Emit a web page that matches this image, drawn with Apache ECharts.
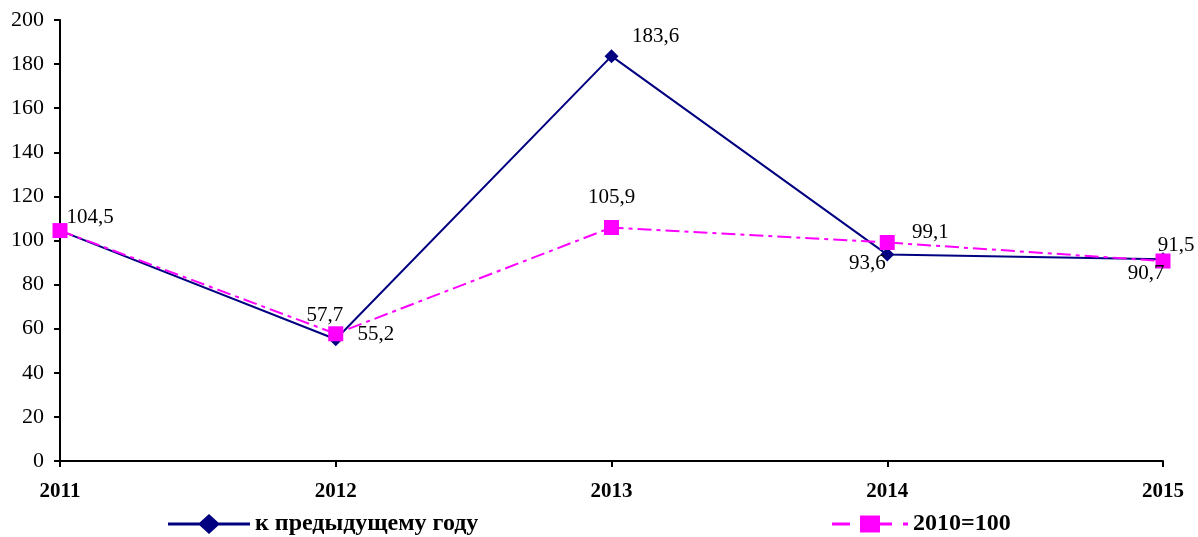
<!DOCTYPE html>
<html>
<head>
<meta charset="utf-8">
<script src="https://cdn.jsdelivr.net/npm/echarts@6/dist/echarts.min.js"></script>
<style>
  html, body { margin: 0; padding: 0; background: #fff; }
  #chart { width: 1198px; height: 537px; }
</style>
</head>
<body>
<div id="chart"></div>
<script>
// Categories and values
const years = ['2011', '2012', '2013', '2014', '2015'];
const prevYear = [104.5, 55.2, 183.6, 93.6, 91.5];   // к предыдущему году
const base2010 = [104.5, 57.7, 105.9, 99.1, 90.7];   // 2010=100
const yTicks = [0, 20, 40, 60, 80, 100, 120, 140, 160, 180, 200];

// label offsets from the point centre, per point (null = no label)
const prevOffsets = [[30, -13], [40, -5], [44, -20], [-20, 9], [13, -14]];
const baseOffsets = [null, [-11, -18], [0, -30], [43, -10], [-17, 12]];

const FONT = '"Liberation Serif", "Times New Roman", serif';

// legend icons drawn like the excel ones (line + marker), in item-size boxes
const ICON_PREV = 'path://M0 8.5H82V11.5H0Z M30 10L41 0L52 10L41 20Z';
const ICON_BASE = 'path://M0 7H18V10H0Z M28 0H48V7H60V10H48V17H28Z M71 7H76V10H71Z';

function withLabels(values, offsets) {
    return values.map((v, i) => {
        const off = offsets[i];
        if (!off) return { value: v, label: { show: false } };
        return {
            value: v,
            label: { show: true, position: 'inside', offset: off }
        };
    });
}

// russian decimal comma
const fmt = (p) => String(p.value).replace('.', ',');

const chart = echarts.init(document.getElementById('chart'));

const legendText = { fontFamily: FONT, fontSize: 24, fontWeight: 'bold', color: '#000' };

const option = {
    animation: false,
    textStyle: { fontFamily: FONT },
    grid: { left: 60, right: 35, top: 20, bottom: 76 },
    xAxis: {
        type: 'category',
        data: years,
        boundaryGap: false,
        axisLine: { lineStyle: { color: '#000', width: 2 } },
        axisTick: { show: true, length: 6, lineStyle: { color: '#000', width: 2 } },
        axisLabel: {
            color: '#000', fontFamily: FONT, fontSize: 21, fontWeight: 'bold',
            margin: 20
        },
        splitLine: { show: false }
    },
    yAxis: {
        type: 'value',
        min: yTicks[0],
        max: yTicks[yTicks.length - 1],
        interval: yTicks[1] - yTicks[0],
        axisLine: { show: true, lineStyle: { color: '#000', width: 2 } },
        axisTick: { show: true, length: 6, lineStyle: { color: '#000', width: 2 } },
        axisLabel: { color: '#000', fontFamily: FONT, fontSize: 22, margin: 16 },
        splitLine: { show: false }
    },
    legend: [
        {
            data: [{ name: 'к предыдущему году', icon: ICON_PREV }],
            left: 168, top: 512, padding: 0,
            itemWidth: 82, itemHeight: 20, itemGap: 6,
            itemStyle: { borderWidth: 0 },
            textStyle: legendText
        },
        {
            data: [{ name: '2010=100', icon: ICON_BASE }],
            left: 832, top: 512, padding: 0,
            itemWidth: 76, itemHeight: 17, itemGap: 9,
            itemStyle: { borderWidth: 0 },
            textStyle: legendText
        }
    ],
    series: [
        {
            name: 'к предыдущему году',
            type: 'line',
            data: withLabels(prevYear, prevOffsets),
            symbol: 'diamond',
            symbolSize: 14,
            lineStyle: { color: '#000080', width: 2 },
            itemStyle: { color: '#000080' },
            label: { color: '#000', fontFamily: FONT, fontSize: 21, formatter: fmt },
            z: 2
        },
        {
            name: '2010=100',
            type: 'line',
            data: withLabels(base2010, baseOffsets),
            symbol: 'rect',
            symbolSize: 15,
            lineStyle: { color: '#ff00ff', width: 2, type: [14, 5, 4, 5] },
            itemStyle: { color: '#ff00ff' },
            label: { color: '#000', fontFamily: FONT, fontSize: 21, formatter: fmt },
            z: 3
        }
    ]
};

chart.setOption(option);
</script>
</body>
</html>
